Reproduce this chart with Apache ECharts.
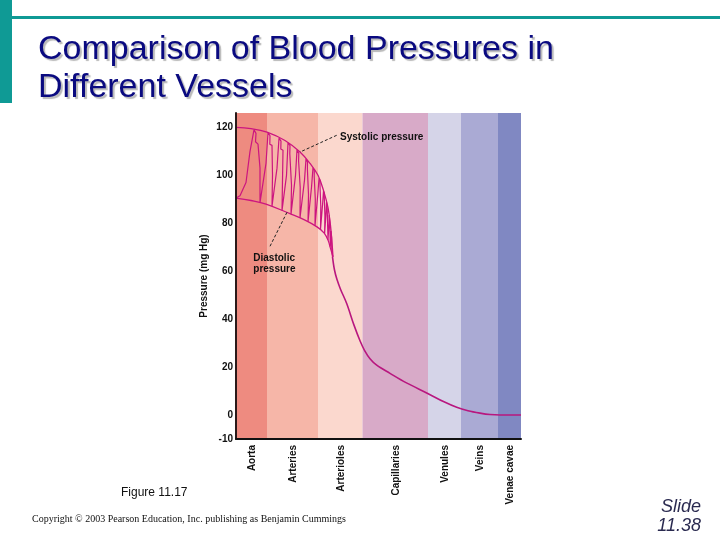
<!DOCTYPE html>
<html>
<head>
<meta charset="utf-8">
<script src="https://cdn.jsdelivr.net/npm/echarts@6/dist/echarts.min.js"></script>
<style>
html,body{margin:0;padding:0;background:#fff;}
#chart{width:720px;height:540px;}
</style>
</head>
<body>
<div id="chart"></div>
<script>
// ---- data ----
var vesselNames = ['Aorta', 'Arteries', 'Arterioles', 'Capillaries', 'Venules', 'Veins', 'Venae cavae'];
var vesselBounds = [0, 31, 82, 126.5, 192, 225, 262, 285];
var yTickLabels = [-10, 0, 20, 40, 60, 80, 100, 120];

var systolicEnvelope = [[0,120],[15,119.5],[31,118],[49,114.5],[64,109.7],[74,105],[82,100],[88,93],[92,86.5],[94.5,79],[96,72],[97,66]];
var diastolicEnvelope = [[0,90.5],[15,89.5],[30,88],[54,84],[68,81.5],[81,78.5],[88,76],[92,73],[94.5,69.5],[97,66]];

var pulseWave = [
  [0,90.5],
  [4,91.5],[10,97],[14,110],[18,119],[20,117.5],[19.5,114],[22,113],[24,103],[24,88.6],
  [26,89],[30,105],[32,117.8],[34,116.5],[33.8,113],[36,112.5],[36.5,100],[36,87.1],
  [38,87.2],[41,103],[43,115.5],[45,114.3],[44.8,111],[47,110.5],[46.5,98],[46,85.3],
  [48,85.4],[50.5,100],[52,113.6],[54,112.4],[53.8,109],[55.8,108.5],[55.5,96],[55,83.8],
  [57,84],[59.5,100],[61,110.5],[62.8,109.2],[62.6,106],[64.3,105.5],[64.2,95],[64,82.2],
  [66,82.4],[68.5,98],[70,106.8],[71.5,105.6],[71.4,102.5],[72.8,102],[72.5,92],[72,80.6],
  [73.5,80.8],[75.5,95],[77,103.1],[78.3,102],[78.2,99.5],[79.4,99],[79.3,90],[79,79],
  [80.3,79.2],[81.8,92],[83,98.8],[84,97.8],[84,95.5],[84.9,95],[84.8,87],[84.5,77.4],
  [85.5,77.5],[86.6,88],[87.5,93.4],[88.3,92.5],[88.3,90.5],[89,90],[88.9,83],[88.6,75.6],
  [89.4,75.7],[90,84],[90.5,88.8],[91.2,88],[91.2,86.2],[91.8,85.8],[92,73],
  [92.5,73],[93,80],[93.2,83.3],[93.7,82.5],[93.8,80.5],[94.2,80],[94.3,70.2],
  [94.7,70.2],[95,76.8],[95.4,76],[95.6,74],[95.8,68.5],
  [96.5,66]
];

var meanPressure = [[96.5,66],[98.5,60.5],[101,56.5],[104.5,52.5],[110.7,46.5],[118,37.5],[124,31],[128.5,27],[134,23.5],[140.7,20.8],[154,17.4],[170,13.5],[191.7,9],[208,5.5],[220.7,3.2],[232,1.8],[244,0.8],[254,0.2],[264,0],[285,0]];

// ---- styles ----
var bandColors = ['#EE8B80', '#F6B6A8', '#FBD8CE', '#D8AAC8', '#D5D4E8', '#AAAAD4', '#8088C2'];
var lineColor = '#CC157F';

var bandRows = vesselNames.map(function (n, i) { return [vesselBounds[i], vesselBounds[i + 1], i]; });

var chart = echarts.init(document.getElementById('chart'), null, { renderer: 'canvas' });

var labelFont = { fontFamily: 'Liberation Sans', fontWeight: 'bold', fontSize: 10, color: '#111' };

var option = {
  backgroundColor: '#ffffff',
  animation: false,
  grid: { left: 236, top: 113, width: 285, height: 326, containLabel: false },
  xAxis: {
    type: 'value', min: 0, max: 285, z: 10,
    axisLine: { show: true, onZero: false, lineStyle: { color: '#111', width: 2 } },
    axisTick: { show: false }, axisLabel: { show: false }, splitLine: { show: false }
  },
  yAxis: {
    type: 'value', min: -10, max: 126, interval: 10, z: 10,
    name: 'Pressure (mg Hg)', nameLocation: 'middle', nameGap: 27,
    nameTextStyle: labelFont,
    axisLine: { show: true, lineStyle: { color: '#2a1a1a', width: 2 } },
    axisTick: { show: false }, splitLine: { show: false },
    axisLabel: {
      margin: 3, fontFamily: 'Liberation Sans', fontWeight: 'bold', fontSize: 10, color: '#111',
      formatter: function (v) { return yTickLabels.indexOf(v) >= 0 ? String(v) : ''; }
    }
  },
  series: [
    {
      type: 'custom', z: 1, silent: true, clip: false,
      data: bandRows,
      encode: { x: [0, 1] },
      renderItem: function (params, api) {
        var i = api.value(2);
        var p0 = api.coord([api.value(0), 126]);
        var p1 = api.coord([api.value(1), -10]);
        return {
          type: 'group',
          children: [
            { type: 'rect', shape: { x: p0[0], y: p0[1], width: p1[0] - p0[0], height: p1[1] - p0[1] }, style: { fill: bandColors[i] } },
            { type: 'text', x: (p0[0] + p1[0]) / 2 + 1, y: p1[1] + 6, rotation: Math.PI / 2,
              style: { text: vesselNames[i], align: 'right', verticalAlign: 'middle', font: 'bold 10px "Liberation Sans"', fill: '#111' } }
          ]
        };
      }
    },
    {
      type: 'line', name: 'systolic', z: 3, data: systolicEnvelope, smooth: 0.4, symbol: 'none',
      lineStyle: { color: lineColor, width: 1.3 },
      markLine: {
        silent: true, symbol: 'none', animation: false,
        lineStyle: { color: '#222', type: [3, 2], width: 1 },
        label: { show: false },
        data: [
          [{ coord: [100.7, 116.7] }, { coord: [64, 109.7] }],
          [{ coord: [34, 70.4] }, { coord: [51, 84.6] }]
        ]
      },
      markPoint: {
        symbol: 'circle', symbolSize: 0, silent: true,
        data: [
          { coord: [104, 115.7], label: Object.assign({ show: true, position: 'right', distance: 0, formatter: 'Systolic pressure' }, labelFont) },
          { coord: [17.3, 63], label: Object.assign({ show: true, position: 'right', distance: 0, align: 'left', formatter: 'Diastolic\npressure', lineHeight: 11 }, labelFont) }
        ]
      }
    },
    {
      type: 'line', name: 'diastolic', z: 3, data: diastolicEnvelope, smooth: 0.4, symbol: 'none',
      lineStyle: { color: lineColor, width: 1.3 }
    },
    {
      type: 'line', name: 'pulse', z: 4, data: pulseWave, smooth: false, symbol: 'none',
      lineStyle: { color: lineColor, width: 1.2 }
    },
    {
      type: 'line', name: 'mean', z: 4, data: meanPressure, smooth: 0.35, symbol: 'none',
      lineStyle: { color: '#B8177F', width: 1.6 }
    }
  ],
  graphic: [
    { type: 'rect', shape: { x: 0, y: 0, width: 12, height: 103 }, style: { fill: '#0F9A95' }, z: 100 },
    { type: 'rect', shape: { x: 12, y: 16, width: 708, height: 3 }, style: { fill: '#0F9A95' }, z: 100 },
    { type: 'text', x: 38, y: 50, z: 100, style: { text: 'Comparison of Blood Pressures in', font: '34px "Liberation Sans"', fill: '#0A0A80',
      verticalAlign: 'middle', textShadowColor: 'rgba(0,0,0,0.28)', textShadowOffsetX: 2, textShadowOffsetY: 2, textShadowBlur: 1 } },
    { type: 'text', x: 38, y: 88, z: 100, style: { text: 'Different Vessels', font: '34px "Liberation Sans"', fill: '#0A0A80',
      verticalAlign: 'middle', textShadowColor: 'rgba(0,0,0,0.28)', textShadowOffsetX: 2, textShadowOffsetY: 2, textShadowBlur: 1 } },
    { type: 'text', x: 121, y: 493, z: 100, style: { text: 'Figure 11.17', font: '12px "Liberation Sans"', fill: '#111', verticalAlign: 'middle' } },
    { type: 'text', x: 32, y: 519, z: 100, style: { text: 'Copyright \u00A9 2003 Pearson Education, Inc. publishing as Benjamin Cummings', font: '10px "Liberation Serif"', fill: '#111', verticalAlign: 'middle' } },
    { type: 'text', x: 701, y: 507, z: 100, style: { text: 'Slide', font: 'italic 18px "Liberation Sans"', fill: '#2a2a50', align: 'right', verticalAlign: 'middle' } },
    { type: 'text', x: 701, y: 526, z: 100, style: { text: '11.38', font: 'italic 18px "Liberation Sans"', fill: '#2a2a50', align: 'right', verticalAlign: 'middle' } }
  ]
};
chart.setOption(option);
</script>
</body>
</html>
